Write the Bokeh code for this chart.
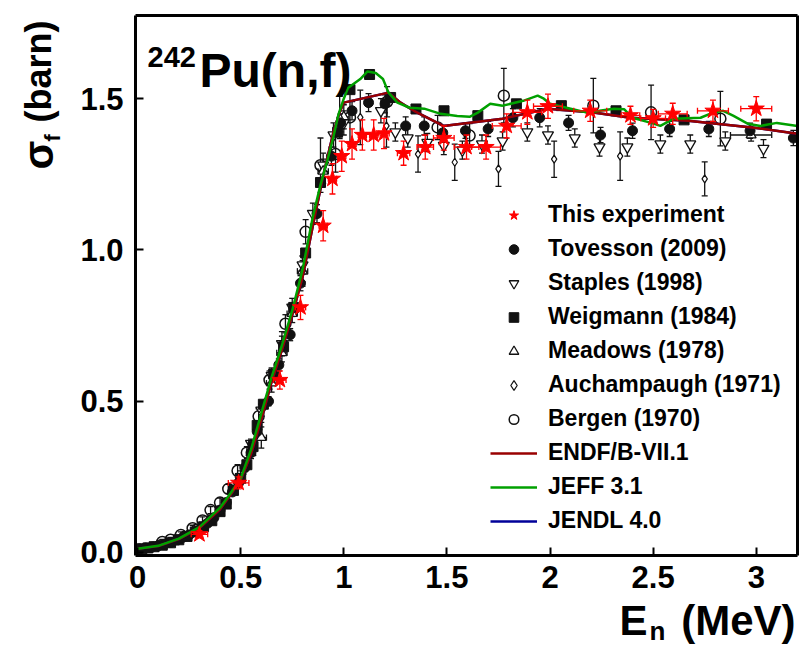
import numpy as np
from bokeh.plotting import figure
from bokeh.models import (Range1d, FixedTicker, Label, Legend, LegendItem,
                          CustomJSTickFormatter, LinearAxis)
from bokeh.embed import file_html
from bokeh.resources import INLINE

# ---------------- data ----------------
x_ticks = [0, 0.5, 1, 1.5, 2, 2.5, 3]
x_tick_labels = ["0", "0.5", "1", "1.5", "2", "2.5", "3"]
y_ticks = [0.0, 0.5, 1.0, 1.5]
y_tick_labels = ["0.0", "0.5", "1.0", "1.5"]

# This experiment (red stars)
exp_e = [0.30, 0.49, 0.69, 0.79, 0.90, 0.945, 0.99, 1.04, 1.09, 1.145,
         1.195, 1.29, 1.395, 1.485, 1.595, 1.69, 1.79, 1.89, 1.99, 2.195,
         2.39, 2.50, 2.595, 2.79, 3.00]
exp_s = [0.06, 0.23, 0.57, 0.81, 1.08, 1.235, 1.31, 1.35, 1.38, 1.38,
         1.385, 1.32, 1.34, 1.37, 1.34, 1.34, 1.41, 1.455, 1.475, 1.46,
         1.445, 1.435, 1.45, 1.46, 1.467]
exp_xerr = [0.04, 0.05, 0.03, 0.025, 0.02, 0.02, 0.02, 0.02, 0.02, 0.02,
            0.025, 0.03, 0.04, 0.05, 0.06, 0.07, 0.07, 0.07, 0.07, 0.08,
            0.045, 0.06, 0.07, 0.075, 0.075]
exp_yerr = [0.012, 0.02, 0.03, 0.04, 0.05, 0.05, 0.05, 0.05, 0.05, 0.05,
            0.05, 0.04, 0.04, 0.04, 0.04, 0.04, 0.04, 0.04, 0.04, 0.035,
            0.03, 0.03, 0.035, 0.035, 0.04]

# Tovesson (2009)
tov_e = [0.01, 0.04, 0.07, 0.10, 0.13, 0.16, 0.19, 0.22, 0.25, 0.28,
         0.31, 0.34, 0.37, 0.40, 0.43, 0.46, 0.49, 0.52, 0.55, 0.58,
         0.635, 0.685, 0.74, 0.79, 0.87, 0.94, 0.985,
         1.04, 1.12, 1.20, 1.30, 1.39, 1.48, 1.59, 1.70, 1.82, 1.95,
         2.09, 2.245, 2.40, 2.58, 2.77, 2.97, 3.18]
tov_s = [0.012, 0.015, 0.018, 0.022, 0.027, 0.033, 0.041, 0.05, 0.058, 0.07,
         0.083, 0.097, 0.115, 0.14, 0.165, 0.2, 0.23, 0.28, 0.33, 0.40,
         0.50, 0.62, 0.72, 0.89, 1.12, 1.31, 1.42,
         1.46, 1.487, 1.483, 1.41, 1.41, 1.387, 1.394, 1.40, 1.437, 1.437,
         1.42, 1.38, 1.394, 1.40, 1.40, 1.394, 1.37]
tov_err = [0.003, 0.003, 0.003, 0.003, 0.004, 0.004, 0.004, 0.005, 0.005, 0.005,
           0.006, 0.006, 0.007, 0.008, 0.008, 0.01, 0.01, 0.012, 0.012, 0.015,
           0.015, 0.02, 0.02, 0.025, 0.03, 0.03, 0.03,
           0.03, 0.03, 0.03, 0.03, 0.03, 0.025, 0.025, 0.025, 0.03, 0.03,
           0.025, 0.025, 0.025, 0.025, 0.025, 0.025, 0.025]

# Staples (1998)
sta_e = [0.10, 0.20, 0.30, 0.40, 0.50, 0.55, 0.60, 0.65, 0.70, 0.75,
         0.80, 0.85, 0.90, 0.95, 1.00, 1.18, 1.25, 1.31, 1.405, 1.485,
         1.575, 1.67, 1.77, 1.89, 1.99, 2.12, 2.24, 2.375, 2.535, 2.68,
         2.85, 3.035]
sta_s = [0.024, 0.046, 0.082, 0.142, 0.25, 0.36, 0.47, 0.585, 0.69, 0.81,
         0.95, 1.12, 1.28, 1.38, 1.42, 1.46, 1.39, 1.37, 1.355, 1.345,
         1.33, 1.35, 1.36, 1.39, 1.38, 1.37, 1.34, 1.34, 1.35, 1.35,
         1.36, 1.335]
sta_err = [0.003, 0.004, 0.005, 0.007, 0.01, 0.015, 0.02, 0.025, 0.025, 0.03,
           0.03, 0.035, 0.04, 0.04, 0.04, 0.04, 0.03, 0.03, 0.03, 0.03,
           0.03, 0.03, 0.03, 0.03, 0.03, 0.03, 0.03, 0.03, 0.03, 0.03,
           0.03, 0.03]

# Weigmann (1984)
wei_e = [0.02, 0.05, 0.08, 0.12, 0.16, 0.20, 0.24, 0.28, 0.32, 0.36,
         0.40, 0.43, 0.465, 0.50, 0.53, 0.56, 0.58, 0.61, 0.66, 0.708,
         0.757, 0.815, 0.887, 0.97, 1.03, 1.125, 1.227, 1.35, 1.486, 1.65,
         1.837, 2.055, 2.32, 2.65, 3.05]
wei_s = [0.012, 0.015, 0.019, 0.024, 0.032, 0.042, 0.053, 0.068, 0.085, 0.105,
         0.135, 0.16, 0.205, 0.245, 0.29, 0.35, 0.42, 0.49, 0.59, 0.68,
         0.81, 0.99, 1.223, 1.389, 1.53, 1.58, 1.504, 1.466, 1.46, 1.444,
         1.483, 1.477, 1.46, 1.43, 1.416]

# Meadows (1978)
mea_e = [0.55, 0.60, 0.65, 0.70, 0.75, 0.80, 0.90, 1.00, 2.975]
mea_s = [0.33, 0.38, 0.56, 0.66, 0.79, 0.93, 1.26, 1.44, 1.38]
mea_xerr = [0.02, 0.025, 0.025, 0.025, 0.025, 0.025, 0.025, 0.025, 0.10]
mea_yerr = [0.02, 0.035, 0.03, 0.03, 0.03, 0.035, 0.04, 0.04, 0.02]

# Auchampaugh (1971)
auc_e = [0.50, 0.60, 0.70, 0.80, 0.98, 1.08, 1.207, 1.36, 1.538, 1.75,
         2.02, 2.34, 2.75]
auc_s = [0.25, 0.46, 0.69, 0.93, 1.438, 1.438, 1.41, 1.317, 1.29, 1.268,
         1.30, 1.31, 1.235]
auc_err = [0.02, 0.03, 0.04, 0.05, 0.07, 0.09, 0.07, 0.06, 0.06, 0.058,
           0.06, 0.08, 0.056]

# Bergen (1970)
ber_e = [0.12, 0.16, 0.21, 0.267, 0.315, 0.354, 0.40, 0.44, 0.485, 0.53,
         0.587, 0.64, 0.717, 0.815, 0.887, 0.96, 1.03, 1.21, 1.455, 1.61,
         1.776, 2.21, 2.49, 2.826]
ber_s = [0.035, 0.042, 0.058, 0.08, 0.106, 0.14, 0.165, 0.21, 0.27, 0.33,
         0.45, 0.57, 0.756, 1.06, 1.28, 1.317, 1.438, 1.49, 1.405, 1.378,
         1.51, 1.477, 1.455, 1.434]
ber_err = [0.008, 0.008, 0.01, 0.01, 0.012, 0.012, 0.015, 0.015, 0.02, 0.02,
           0.025, 0.03, 0.03, 0.04, 0.09, 0.06, 0.08, 0.05, 0.04, 0.04,
           0.09, 0.09, 0.09, 0.09]

# Evaluations
jeff_e = [0.0, 0.1, 0.2, 0.3, 0.4, 0.45, 0.5, 0.55, 0.6, 0.65, 0.7, 0.75, 0.8,
          0.85, 0.887, 0.92, 0.95, 0.975, 1.0, 1.02, 1.05, 1.08, 1.115, 1.155,
          1.19, 1.217, 1.26, 1.32, 1.39, 1.47, 1.55, 1.61, 1.65, 1.71, 1.77,
          1.87, 1.94, 1.97, 2.0, 2.10, 2.18, 2.24, 2.31, 2.36, 2.40, 2.49,
          2.535, 2.60, 2.73, 2.79, 2.84, 2.89, 2.96, 3.02, 3.10, 3.2]
jeff_s = [0.012, 0.022, 0.046, 0.084, 0.148, 0.195, 0.245, 0.34, 0.46, 0.58,
          0.685, 0.80, 0.935, 1.11, 1.215, 1.295, 1.375, 1.45, 1.50, 1.535,
          1.55, 1.565, 1.59, 1.585, 1.565, 1.52, 1.487, 1.47, 1.467, 1.45,
          1.443, 1.44, 1.454, 1.483, 1.477, 1.493, 1.51, 1.50, 1.483, 1.467,
          1.454, 1.46, 1.467, 1.465, 1.437, 1.42, 1.41, 1.434, 1.437, 1.454,
          1.46, 1.443, 1.417, 1.41, 1.42, 1.41]
endf_e = [0.0, 0.1, 0.2, 0.3, 0.4, 0.45, 0.5, 0.55, 0.6, 0.65, 0.7, 0.75, 0.8,
          0.85, 0.9, 0.95, 0.98, 1.0, 1.217, 1.275, 1.34, 1.483, 1.77, 1.99,
          2.21, 2.39, 2.67, 2.99, 3.2]
endf_s = [0.012, 0.021, 0.044, 0.081, 0.143, 0.19, 0.24, 0.325, 0.44, 0.565,
          0.67, 0.785, 0.91, 1.08, 1.245, 1.39, 1.455, 1.487, 1.52, 1.487,
          1.46, 1.41, 1.434, 1.467, 1.454, 1.437, 1.427, 1.404, 1.384]
jendl_e = [0.0, 0.1, 0.2, 0.3, 0.4, 0.45, 0.5, 0.55, 0.6, 0.65, 0.7, 0.75, 0.8,
           0.85, 0.9, 0.95, 0.98, 1.0, 1.217, 1.275, 1.34, 1.483, 1.77, 1.99,
           2.21, 2.39, 2.67, 2.99, 3.2]
jendl_s = [0.012, 0.021, 0.044, 0.081, 0.143, 0.19, 0.24, 0.325, 0.44, 0.565,
           0.67, 0.785, 0.91, 1.08, 1.245, 1.39, 1.455, 1.487, 1.52, 1.487,
           1.46, 1.41, 1.434, 1.467, 1.454, 1.437, 1.427, 1.404, 1.384]

FONT = "Liberation Sans"
RED = "#ff0000"
BLACK = "#111111"

# ---------------- layout: the visible box inside the full canvas ----------------
W, H = 800, 649
BOX_L, BOX_R, BOX_T, BOX_B = 135, 797, 15, 555
x_lo, x_hi = -0.01, 3.2
y_lo, y_hi = -0.01, 1.775
kx = (BOX_R - BOX_L) / (x_hi - x_lo)
ky = (BOX_B - BOX_T) / (y_hi - y_lo)
xr = Range1d(x_lo - BOX_L / kx, x_hi + (W - BOX_R) / kx)
yr = Range1d(y_lo - (H - BOX_B) / ky, y_hi + BOX_T / ky)

p = figure(width=W, height=H, x_range=xr, y_range=yr, output_backend="svg",
           toolbar_location=None, title=None, x_axis_location=None,
           y_axis_location=None, min_border=0, min_border_left=0,
           min_border_right=0, min_border_top=0, min_border_bottom=0)
p.grid.visible = False
p.outline_line_color = None
p.background_fill_color = "white"
p.border_fill_color = "white"

fmt_code = ("let best = -1; for (let i = 0; i < tv.length; i++) {"
            " if (Math.abs(tv[i] - tick) < 1e-6) best = i; }"
            " return best >= 0 ? tl[best] : '';")


def style_axis(ax):
    ax.axis_line_width = 3
    ax.axis_line_color = "black"
    ax.major_tick_in = 8
    ax.major_tick_out = 0
    ax.major_tick_line_width = 2
    ax.major_tick_line_color = "black"
    ax.minor_tick_line_color = None
    ax.major_label_text_font = FONT
    ax.major_label_text_font_style = "bold"
    ax.major_label_text_font_size = "31px"
    ax.major_label_text_color = "black"


ax_b = LinearAxis(fixed_location=y_lo, bounds=(x_lo, x_hi),
                  ticker=FixedTicker(ticks=x_ticks),
                  formatter=CustomJSTickFormatter(args=dict(tv=x_ticks, tl=x_tick_labels), code=fmt_code))
style_axis(ax_b)
ax_b.major_label_standoff = 10
p.add_layout(ax_b, "below")

ax_l = LinearAxis(fixed_location=x_lo, bounds=(y_lo, y_hi),
                  ticker=FixedTicker(ticks=y_ticks),
                  formatter=CustomJSTickFormatter(args=dict(tv=y_ticks, tl=y_tick_labels), code=fmt_code))
style_axis(ax_l)
ax_l.major_label_standoff = 12
p.add_layout(ax_l, "left")

ax_t = LinearAxis(fixed_location=y_hi, bounds=(x_lo, x_hi),
                  ticker=FixedTicker(ticks=[]))
style_axis(ax_t)
ax_t.major_label_text_color = None
p.add_layout(ax_t, "above")

ax_r = LinearAxis(fixed_location=x_hi, bounds=(y_lo, y_hi),
                  ticker=FixedTicker(ticks=[]))
style_axis(ax_r)
ax_r.major_label_text_color = None
p.add_layout(ax_r, "right")


def errbars(x, y, xe, ye, color, width=1.3, cap=6):
    x = np.asarray(x, float)
    y = np.asarray(y, float)
    if ye is not None:
        ye = np.asarray(ye, float)
        p.segment(x, y - ye, x, y + ye, line_color=color, line_width=width)
        p.scatter(np.concatenate([x, x]), np.concatenate([y - ye, y + ye]),
                  marker="dash", size=cap, line_color=color, line_width=width)
    if xe is not None:
        xe = np.asarray(xe, float)
        p.segment(x - xe, y, x + xe, y, line_color=color, line_width=width)
        p.scatter(np.concatenate([x - xe, x + xe]), np.concatenate([y, y]),
                  marker="dash", angle=np.pi / 2, size=cap, line_color=color,
                  line_width=width)


# black data error bars
errbars(tov_e, tov_s, None, tov_err, BLACK)
errbars(sta_e, sta_s, None, sta_err, BLACK)
errbars(mea_e, mea_s, mea_xerr, mea_yerr, BLACK)
errbars(auc_e, auc_s, None, auc_err, BLACK)
errbars(ber_e, ber_s, None, ber_err, BLACK)

r_ber = p.scatter(ber_e, ber_s, marker="circle", size=11, fill_color=None,
                  line_color=BLACK, line_width=1.5)
r_sta = p.scatter(sta_e, sta_s, marker="inverted_triangle", size=11, fill_color="white",
                  line_color=BLACK, line_width=1.3)
r_mea = p.scatter(mea_e, mea_s, marker="triangle", size=10, fill_color="white",
                  line_color=BLACK, line_width=1.3)
r_auc = p.scatter(auc_e, auc_s, marker="diamond", size=8, fill_color="white",
                  line_color=BLACK, line_width=1.2)
r_wei = p.scatter(wei_e, wei_s, marker="square", size=10, fill_color=BLACK,
                  line_color=BLACK)
r_tov = p.scatter(tov_e, tov_s, marker="circle", size=10, fill_color=BLACK,
                  line_color=BLACK)

# evaluations
r_jendl = p.line(jendl_e, jendl_s, line_color="#000099", line_width=2.5)
r_endf = p.line(endf_e, endf_s, line_color="#990000", line_width=2.5)
r_jeff = p.line(jeff_e, jeff_s, line_color="#00a000", line_width=2.5)

# this experiment
errbars(exp_e, exp_s, exp_xerr, exp_yerr, RED, width=1.3, cap=6)
r_exp = p.scatter(exp_e, exp_s, marker="star", size=17, fill_color=RED,
                  line_color=RED)

legend = Legend(items=[
    LegendItem(label="This experiment", renderers=[r_exp]),
    LegendItem(label="Tovesson (2009)", renderers=[r_tov]),
    LegendItem(label="Staples (1998)", renderers=[r_sta]),
    LegendItem(label="Weigmann (1984)", renderers=[r_wei]),
    LegendItem(label="Meadows (1978)", renderers=[r_mea]),
    LegendItem(label="Auchampaugh (1971)", renderers=[r_auc]),
    LegendItem(label="Bergen (1970)", renderers=[r_ber]),
    LegendItem(label="ENDF/B-VII.1", renderers=[r_endf]),
    LegendItem(label="JEFF 3.1", renderers=[r_jeff]),
    LegendItem(label="JENDL 4.0", renderers=[r_jendl]),
], location=(490, 115), orientation="vertical", glyph_width=47,
    glyph_height=24, label_height=24, label_standoff=11, spacing=7,
    padding=0, margin=0, border_line_alpha=0, background_fill_alpha=0,
    label_text_font=FONT, label_text_font_style="bold",
    label_text_font_size="23px", label_text_color="black")
p.add_layout(legend)


# texts (screen units: x from canvas left, y from canvas bottom)
def lab(text, x, y, size, align="left", angle=0.0):
    p.add_layout(Label(x=x, y=y, x_units="screen", y_units="screen", text=text,
                       text_font=FONT, text_font_style="bold",
                       text_font_size=size, text_color="black",
                       text_align=align, text_baseline="alphabetic",
                       angle=angle))


lab("242", 147, 593, "29px")
lab("Pu(n,f)", 199, 579, "48px")
lab("E", 619, 29, "42px")
lab("n", 649, 19, "26px")
lab("(MeV)", 795, 29, "42px", align="right")
lab("σ", 38, 480, "42px", angle=np.pi / 2)
lab("f", 52, 508, "22px", angle=np.pi / 2)
lab("(barn)", 38, 527, "36px", angle=np.pi / 2)

open("out.html", "w").write(file_html(p, INLINE))
